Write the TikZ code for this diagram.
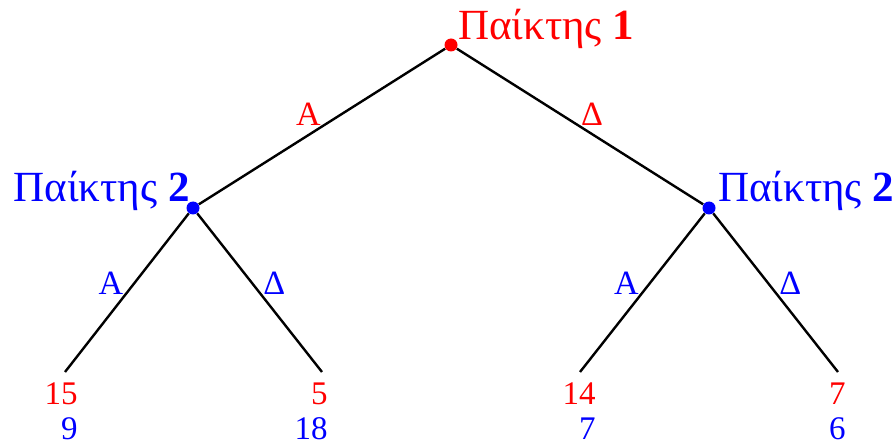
\documentclass[tikz,border=0pt]{standalone}
\usepackage{fontspec}
\setmainfont{Liberation Serif}
\usepackage{tikz}

\begin{document}
\begin{tikzpicture}[x=0.5pt, y=-0.5pt,
    move/.style={line width=1.2pt, black},
    decision/.style={circle, fill, inner sep=0pt, minimum size=6.5pt},
    playerlabel/.style={font=\fontsize{21.5}{24}\selectfont, anchor=base west, inner sep=0pt},
    actlabel/.style={font=\fontsize{17}{19}\selectfont, inner sep=0pt},
    payoff/.style={font=\fontsize{16.5}{19}\selectfont, anchor=base east, inner sep=0pt}]

    \useasboundingbox (0,0) rectangle (895,444);

    % Decision nodes
    \node[decision, red]  (root)  at (451,45)  {};
    \node[decision, blue] (left)  at (193,208) {};
    \node[decision, blue] (right) at (709,208) {};

    % Leaves
    \coordinate (AA) at (65,372);
    \coordinate (AD) at (322,372);
    \coordinate (DA) at (580,372);
    \coordinate (DD) at (838,372);

    % Player names
    \node[playerlabel, red]  (p1)  at (458,40)  {Παίκτης \textbf{1}};
    \node[playerlabel, blue, anchor=base east] (p2l) at (190,202) {Παίκτης \textbf{2}};
    \node[playerlabel, blue] (p2r) at (718,202) {Παίκτης \textbf{2}};

    % First move
    \draw[move] (root) -- node[actlabel, red, above left]  {A} (left);
    \draw[move] (root) -- node[actlabel, red, above right] {Δ} (right);

    % Second moves
    \draw[move] (left)  -- node[actlabel, blue, above left, pos=0.52]  {A} (AA);
    \draw[move] (left)  -- node[actlabel, blue, above right, pos=0.52] {Δ} (AD);
    \draw[move] (right) -- node[actlabel, blue, above left, pos=0.52]  {A} (DA);
    \draw[move] (right) -- node[actlabel, blue, above right, pos=0.52] {Δ} (DD);

    % Payoffs (player 1 red, player 2 blue)
    \node[payoff, red]  (u1AA) at (78,404)  {15};
    \node[payoff, blue] (u2AA) at (78,439)  {9};
    \node[payoff, red]  (u1AD) at (328,404) {5};
    \node[payoff, blue] (u2AD) at (328,439) {18};
    \node[payoff, red]  (u1DA) at (596,404) {14};
    \node[payoff, blue] (u2DA) at (596,439) {7};
    \node[payoff, red]  (u1DD) at (846,404) {7};
    \node[payoff, blue] (u2DD) at (846,439) {6};

\end{tikzpicture}
\end{document}
